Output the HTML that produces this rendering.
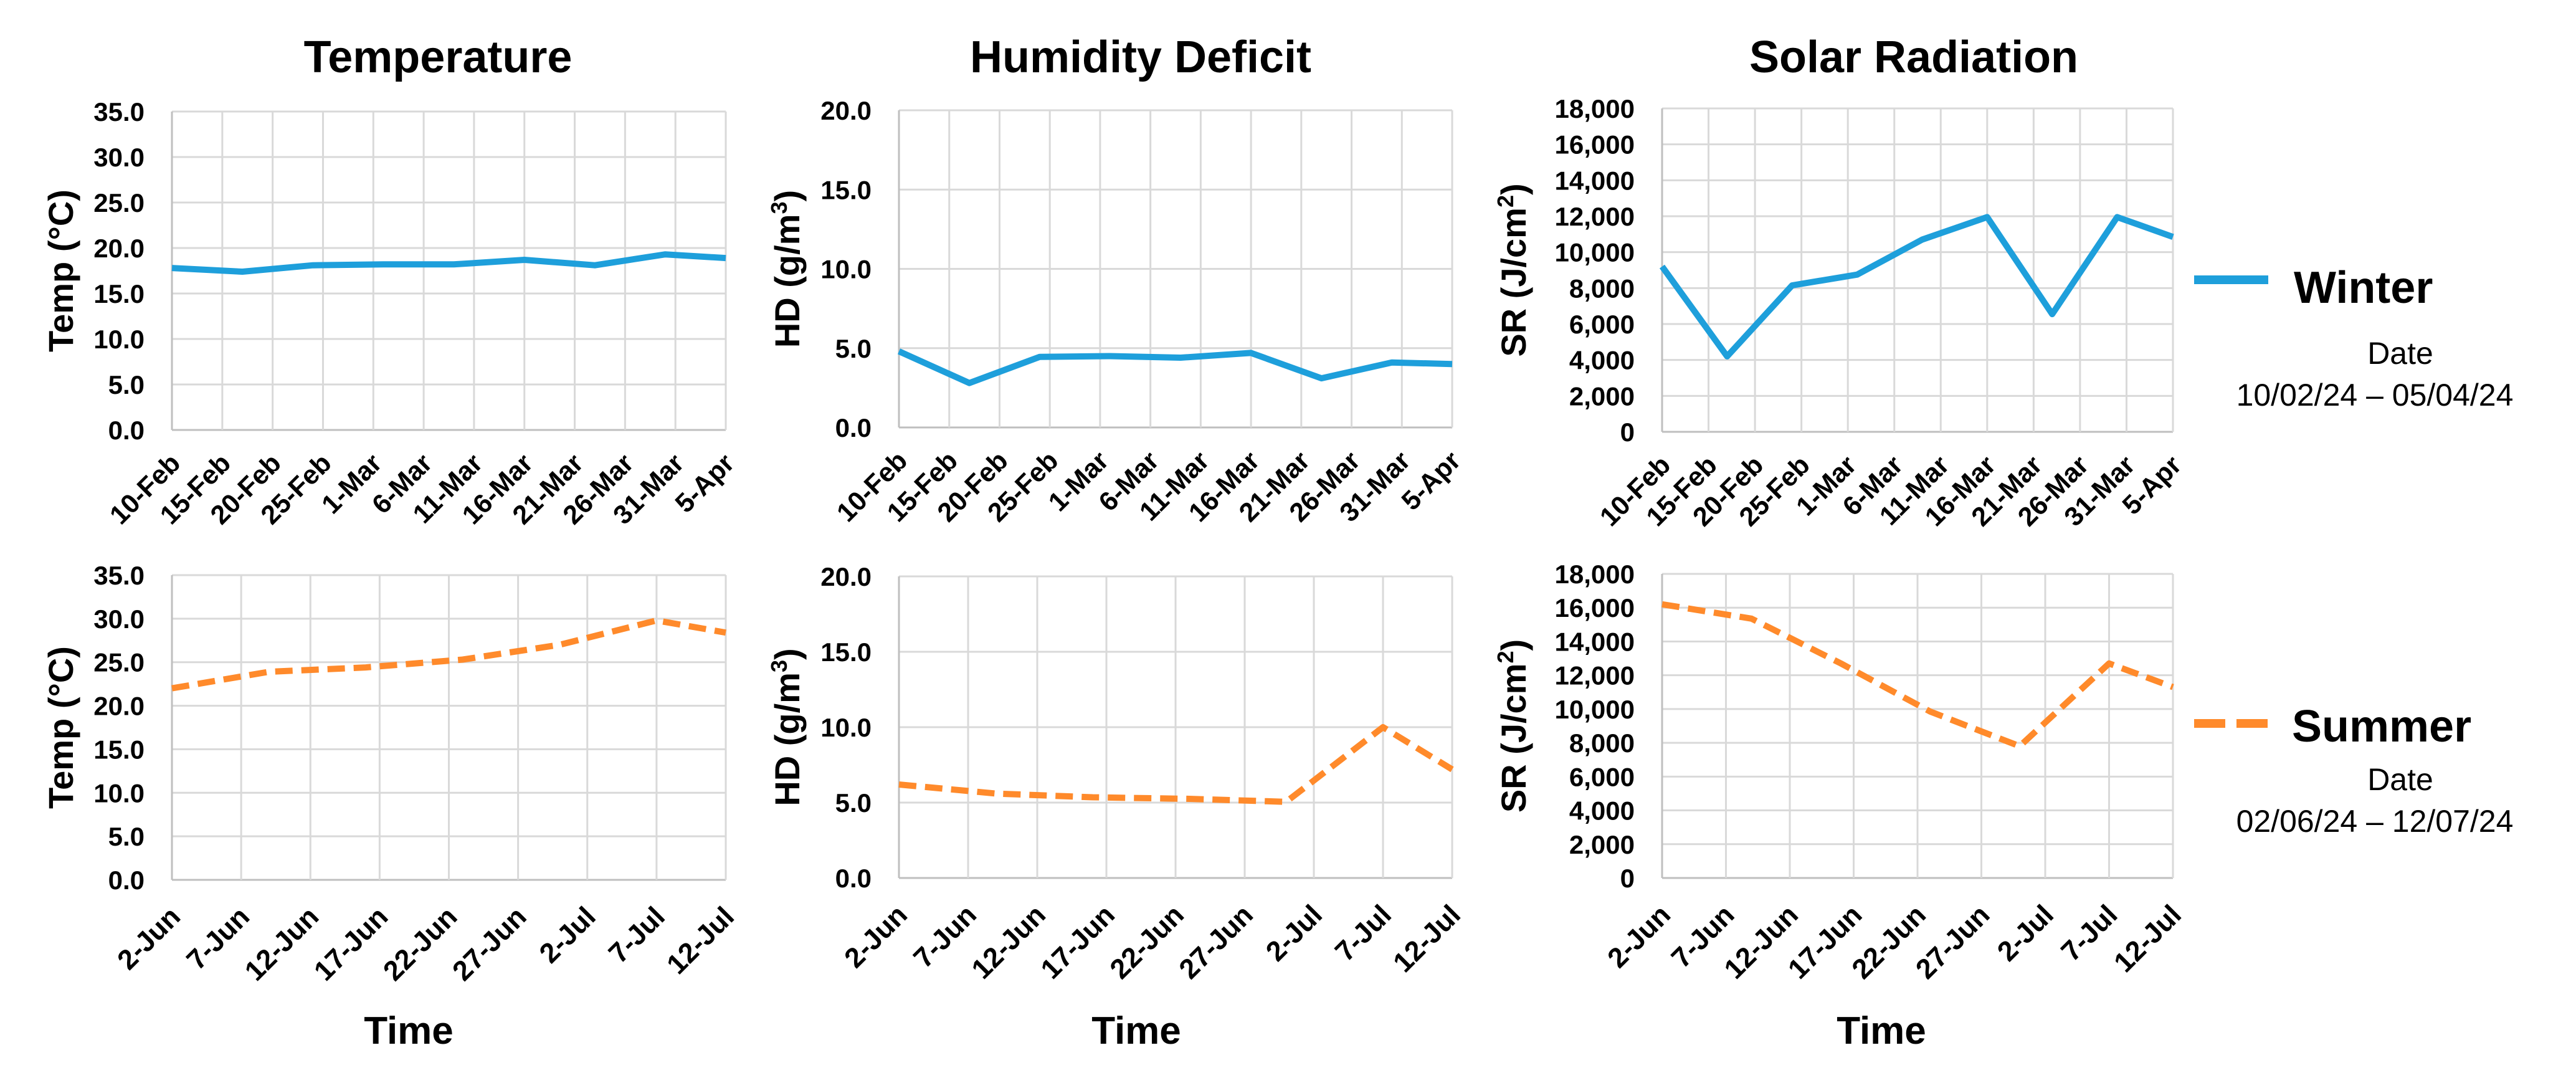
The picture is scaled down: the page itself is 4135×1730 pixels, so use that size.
<!DOCTYPE html>
<html><head><meta charset="utf-8">
<style>
html,body{margin:0;padding:0;background:#fff;}
svg{display:block;font-family:"Liberation Sans",Arial,sans-serif;}
</style></head>
<body>
<svg id="chart" width="4135" height="1730" viewBox="0 0 4135 1730" xmlns="http://www.w3.org/2000/svg">
<g id="panels"></g>
<g>
  <line x1="3522" y1="449" x2="3641" y2="449" stroke="#1E9FDB" stroke-width="14"/>
  <text x="3682" y="486" font-size="72" font-weight="bold">Winter</text>
  <text x="3853" y="584" font-size="50" text-anchor="middle">Date</text>
  <text x="3812" y="651" font-size="50" text-anchor="middle">10/02/24 – 05/04/24</text>
  <line x1="3522" y1="1161" x2="3641" y2="1161" stroke="#FF8A2B" stroke-width="14" stroke-dasharray="50,18"/>
  <text x="3679" y="1190" font-size="72" font-weight="bold">Summer</text>
  <text x="3853" y="1268" font-size="50" text-anchor="middle">Date</text>
  <text x="3812" y="1335" font-size="50" text-anchor="middle">02/06/24 – 12/07/24</text>
</g>
</svg>
<script>
// ---- data ----
const winterTicks = ["10-Feb","15-Feb","20-Feb","25-Feb","1-Mar","6-Mar","11-Mar","16-Mar","21-Mar","26-Mar","31-Mar","5-Apr"];
const summerTicks = ["2-Jun","7-Jun","12-Jun","17-Jun","22-Jun","27-Jun","2-Jul","7-Jul","12-Jul"];
const winterDays = [0,7,14,21,28,35,42,49,55];
const summerDays = [0,7,14,21,28,35,40];
const winterTemp = [17.8,17.4,18.1,18.2,18.2,18.7,18.1,19.3,18.9];
const summerTemp = [22.0,23.9,24.4,25.3,27.0,29.8,28.4];
const winterHD = [4.8,2.8,4.45,4.5,4.4,4.7,3.1,4.1,4.0];
const summerHD = [6.2,5.6,5.35,5.25,5.05,10.0,7.2];
const winterSR = [9200,4200,8150,8750,10700,11950,6550,11950,10850];
const summerSR = [16200,15350,12700,9850,7800,12700,11300];
const tempTicks = ["0.0","5.0","10.0","15.0","20.0","25.0","30.0","35.0"];
const hdTicks = ["0.0","5.0","10.0","15.0","20.0"];
const srTicks = ["0","2,000","4,000","6,000","8,000","10,000","12,000","14,000","16,000","18,000"];

const NS = "http://www.w3.org/2000/svg";
const root = document.getElementById("panels");
function mk(tag, attrs, parent){
  const e = document.createElementNS(NS, tag);
  for (const k in attrs) e.setAttribute(k, attrs[k]);
  parent.appendChild(e);
  return e;
}

function panel(o){
  const g = mk("g", {}, root);
  
  
  const yMax = o.yMax, nT = o.yTicks.length;
  const ys = v => o.b - (v / yMax) * (o.b - o.t);
  const nX = o.xTicks.length, step = o.step;
  const totalDays = (nX - 1) * step;
  const xs = d => o.l + (d / totalDays) * (o.r - o.l);
  for (let i = 0; i < nT; i++){
    const v = yMax * i / (nT - 1), y = ys(v);
    const ln = mk("line", {x1:o.l, x2:o.r, y1:y, y2:y, stroke: i===0 ? "#bfbfbf" : "#d9d9d9", "stroke-width":3}, g);
    
    
    const t = mk("text", {x:o.l - 44, y:y + 15, "font-size":42, "font-weight":"bold", "text-anchor":"end", fill:"#000"}, g);
    t.textContent = o.yTicks[i];
    
    
  }
  for (let i = 0; i < nX; i++){
    const x = xs(i * step);
    const ln = mk("line", {x1:x, x2:x, y1:o.t, y2:o.b, stroke: i===0 ? "#bfbfbf" : "#d9d9d9", "stroke-width":3}, g);
    
    
    const lx = x + 16, ly = o.b + o.lblOff;
    const t = mk("text", {x:lx, y:ly, "font-size":o.lblSize, "font-weight":"bold", "text-anchor":"end", transform:`rotate(-45 ${lx} ${ly})`}, g);
    t.textContent = o.xTicks[i];
    
    
  }
  const pts = o.days.map((d, i) => xs(d).toFixed(1) + "," + ys(o.values[i]).toFixed(1)).join(" ");
  const attrs = {points:pts, fill:"none", stroke:o.color, "stroke-width":10, "stroke-linejoin":"round"};
  if (o.dash) attrs["stroke-dasharray"] = "28,14";
  const pl = mk("polyline", attrs, g);
  
  
  const cy = (o.t + o.b) / 2;
  const yt = mk("text", {x:o.yTitleX, y:cy, "font-size":56, "font-weight":"bold", "text-anchor":"middle", transform:`rotate(-90 ${o.yTitleX} ${cy})`}, g);
  
  
  yt.innerHTML = o.yTitle;
}

const cols = [
  {key:"temp", l:276, r:1165, yTitleX:117, yMax:35, yTicks:tempTicks, w:winterTemp, s:summerTemp,
   yTitle:"Temp (°C)", tTop:179, bTop:690, tBot:923, bBot:1412, title:"Temperature", titleX:703, timeX:656},
  {key:"hd", l:1443, r:2331, yTitleX:1283, yMax:20, yTicks:hdTicks, w:winterHD, s:summerHD,
   yTitle:'HD (g/m<tspan baseline-shift="super" font-size="36">3</tspan>)', tTop:177, bTop:686, tBot:925, bBot:1409, title:"Humidity Deficit", titleX:1831, timeX:1824},
  {key:"sr", l:2668, r:3488, yTitleX:2449, yMax:18000, yTicks:srTicks, w:winterSR, s:summerSR,
   yTitle:'SR (J/cm<tspan baseline-shift="super" font-size="36">2</tspan>)', tTop:174, bTop:693, tBot:921, bBot:1409, title:"Solar Radiation", titleX:3072, timeX:3020}
];

for (const c of cols){
  panel({name:c.key+"-winter-panel", l:c.l, r:c.r, t:c.tTop, b:c.bTop, yMax:c.yMax, yTicks:c.yTicks,
    xTicks:winterTicks, step:5, days:winterDays, values:c.w, color:"#1E9FDB", dash:false, lblOff:56, lblSize:43,
    seriesName:c.key+"-winter-line", yTitle:c.yTitle, yTitleX:c.yTitleX});
  panel({name:c.key+"-summer-panel", l:c.l, r:c.r, t:c.tBot, b:c.bBot, yMax:c.yMax, yTicks:c.yTicks,
    xTicks:summerTicks, step:5, days:summerDays, values:c.s, color:"#FF8A2B", dash:true, lblOff:62, lblSize:45,
    seriesName:c.key+"-summer-line", yTitle:c.yTitle, yTitleX:c.yTitleX});
  const tt = mk("text", {x:c.titleX, y:116, "font-size":72, "font-weight":"bold", "text-anchor":"middle"}, root);
  tt.textContent = c.title;
  
  
  const xt = mk("text", {x:c.timeX, y:1675, "font-size":62, "font-weight":"bold", "text-anchor":"middle"}, root);
  xt.textContent = "Time";
  
  
}
</script>
</body></html>
